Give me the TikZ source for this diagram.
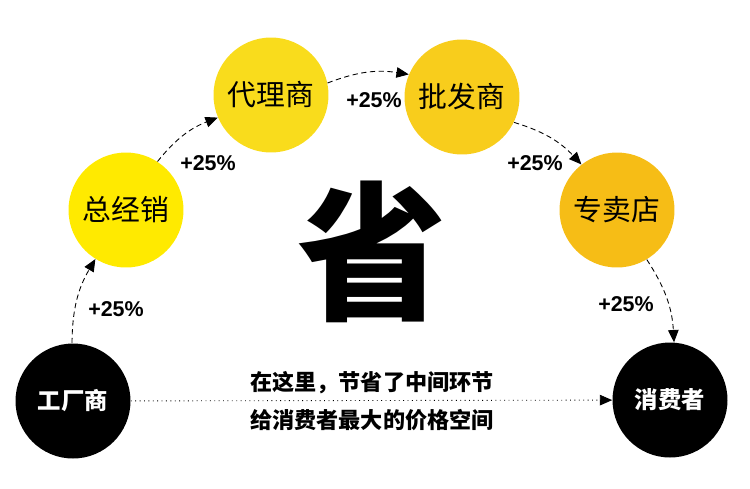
\documentclass[tikz,border=0pt]{standalone}
\usepackage{fontspec}
\setmainfont{Liberation Sans}
\newfontfamily\cjk{Noto Sans CJK SC}
\newfontfamily\cjkheavy{Noto Sans CJK SC Black}
\usetikzlibrary{shapes,arrows.meta,positioning}

\definecolor{yelA}{HTML}{FFEA00}
\definecolor{yelB}{HTML}{F9DC1C}
\definecolor{yelC}{HTML}{F8CD1C}
\definecolor{yelD}{HTML}{F6BD16}

\begin{document}
\begin{tikzpicture}[
    x=0.02cm, y=-0.02cm,
    shop/.style={circle, minimum size=2.3cm, inner sep=0pt, font=\cjk\fontsize{16.4}{18}\selectfont},
    ends/.style={circle, fill=black, minimum size=2.3cm, inner sep=0pt, text=white, font=\cjk\bfseries\fontsize{13.3}{15}\selectfont},
    rate/.style={font=\bfseries\fontsize{12.2}{14}\selectfont},
    arrow/.style={->, >={Triangle[length=7pt,width=6pt]}, densely dashed, line width=0.5pt, bend left=15}
]
    \useasboundingbox (0,0) rectangle (750,488);

    \node[ends] (factory) at (73,401) {工厂商};
    \node[shop, fill=yelA] (general) at (126,210) {总经销};
    \node[shop, fill=yelB] (agent) at (271,95) {代理商};
    \node[shop, fill=yelC] (whole) at (462,97) {批发商};
    \node[shop, fill=yelD] (store) at (617,210) {专卖店};
    \node[ends] (buyer) at (670,400) {消费者};

    \node[font=\cjkheavy\fontsize{85}{90}\selectfont] (save) at (372,252) {省};

    \node[rate] (r1) at (116,309) {+25\%};
    \node[rate] (r2) at (208,163) {+25\%};
    \node[rate] (r3) at (374,100) {+25\%};
    \node[rate] (r4) at (535,163) {+25\%};
    \node[rate] (r5) at (626,304) {+25\%};

    \node[font=\cjk\bfseries\fontsize{12.6}{21.5}\selectfont, align=center] (note) at (372,401)
        {在这里，节省了中间环节\\给消费者最大的价格空间};

    \draw[arrow] (factory.91) to (general.238);
    \draw[arrow] (general.57) to (agent.203);
    \draw[arrow] (agent.12) to (whole.157);
    \draw[arrow] (whole.334) to (store.128);
    \draw[arrow] (store.301) to (buyer.86);
    \draw[->, >={Triangle[length=7pt,width=6pt]}, dotted, line width=0.5pt] (factory) -- (buyer);
\end{tikzpicture}
\end{document}
